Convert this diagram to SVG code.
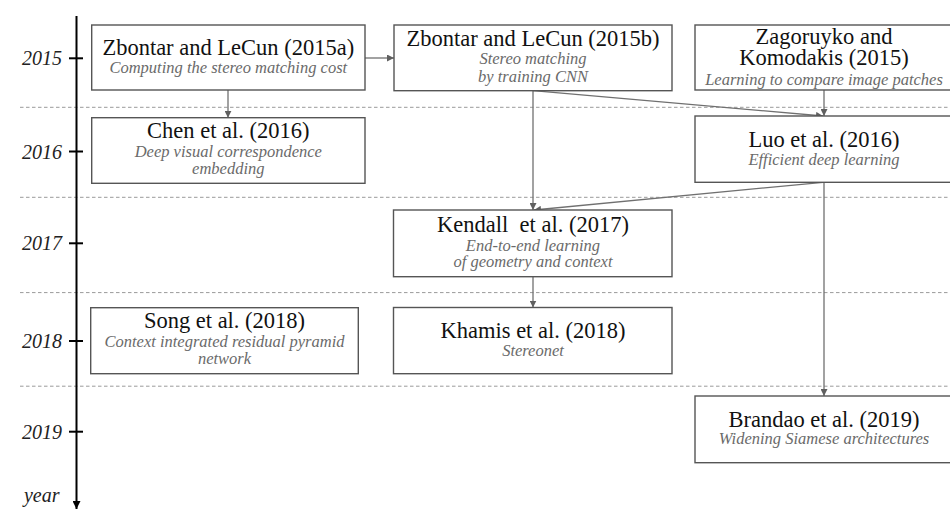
<svg xmlns="http://www.w3.org/2000/svg" width="950" height="509" viewBox="0 0 950 509">
  <style>
    .box { fill: #ffffff; stroke: #555555; stroke-width: 1.4; }
    .title { font-family: "Liberation Serif", "Times New Roman", serif; font-size: 22.5px; fill: #111111; text-anchor: middle; }
    .sub { font-family: "Liberation Serif", "Times New Roman", serif; font-style: italic; font-size: 16.5px; fill: #6a6a6a; text-anchor: middle; }
    .year { font-family: "Liberation Serif", "Times New Roman", serif; font-style: italic; font-size: 20px; fill: #222222; text-anchor: end; }
    .grid { stroke: #9a9a9a; stroke-width: 1; stroke-dasharray: 3.5 2.5; fill: none; }
    .link { stroke: #707070; stroke-width: 1.3; fill: none; marker-end: url(#arrow); }
    .axis { stroke: #000000; stroke-width: 2; fill: none; }
  </style>
  <defs>
    <marker id="arrow" viewBox="0 0 10 10" refX="10" refY="5" markerWidth="7" markerHeight="7" markerUnits="userSpaceOnUse" orient="auto">
      <path d="M0,0 L10,5 L0,10 z" fill="#606060"/>
    </marker>
    <marker id="axisArrow" viewBox="0 0 10 10" refX="10" refY="5" markerWidth="8" markerHeight="8" markerUnits="userSpaceOnUse" orient="auto">
      <path d="M0,0 L10,5 L0,10 z" fill="#000000"/>
    </marker>
  </defs>

  <rect width="950" height="509" fill="#ffffff"/>

  <!-- year separators -->
  <g id="grid">
    <line class="grid" x1="20" y1="107.3" x2="950" y2="107.3"/>
    <line class="grid" x1="20" y1="197.3" x2="950" y2="197.3"/>
    <line class="grid" x1="20" y1="292.6" x2="950" y2="292.6"/>
    <line class="grid" x1="20" y1="386.2" x2="950" y2="386.2"/>
  </g>

  <!-- time axis -->
  <g id="axis">
    <line class="axis" x1="76.5" y1="16" x2="76.5" y2="509" marker-end="url(#axisArrow)"/>
    <line class="axis" x1="69" y1="58.3" x2="83" y2="58.3" stroke-width="1.6"/>
    <line class="axis" x1="69" y1="151.5" x2="83" y2="151.5" stroke-width="1.6"/>
    <line class="axis" x1="69" y1="243.3" x2="83" y2="243.3" stroke-width="1.6"/>
    <line class="axis" x1="69" y1="341" x2="83" y2="341" stroke-width="1.6"/>
    <line class="axis" x1="69" y1="431.7" x2="83" y2="431.7" stroke-width="1.6"/>
    <text class="year" x="62" y="65.3">2015</text>
    <text class="year" x="62" y="158.5">2016</text>
    <text class="year" x="62" y="250.3">2017</text>
    <text class="year" x="62" y="348">2018</text>
    <text class="year" x="62" y="438.7">2019</text>
    <text class="year" x="59.5" y="502">year</text>
  </g>

  <!-- connectors -->
  <g id="connectors">
    <line class="link" x1="365" y1="58" x2="394" y2="58"/>
    <line class="link" x1="228" y1="90" x2="228" y2="117.7"/>
    <line class="link" x1="533" y1="90.7" x2="533" y2="210"/>
    <line class="link" x1="533" y1="90.7" x2="823" y2="116"/>
    <line class="link" x1="824" y1="90" x2="824" y2="116"/>
    <line class="link" x1="823" y1="182.3" x2="534" y2="210"/>
    <line class="link" x1="533" y1="276.7" x2="533" y2="307.5"/>
    <line class="link" x1="824" y1="182.3" x2="824" y2="396"/>
  </g>

  <g id="zbontar2015a">
    <rect class="box" x="91.7" y="25" width="273.3" height="65"/>
    <text class="title" x="228.3" y="55">Zbontar and LeCun (2015a)</text>
    <text class="sub" x="228.3" y="72.7">Computing the stereo matching cost</text>
  </g>

  <g id="zbontar2015b">
    <rect class="box" x="394" y="25" width="278" height="65.7"/>
    <text class="title" x="533" y="45.7">Zbontar and LeCun (2015b)</text>
    <text class="sub" x="533" y="64.3">Stereo matching</text>
    <text class="sub" x="533" y="81.7">by training CNN</text>
  </g>

  <g id="zagoruyko2015">
    <rect class="box" x="695" y="25" width="258" height="65"/>
    <text class="title" x="824" y="44.3">Zagoruyko and</text>
    <text class="title" x="824" y="65">Komodakis (2015)</text>
    <text class="sub" x="824" y="85">Learning to compare image patches</text>
  </g>

  <g id="chen2016">
    <rect class="box" x="91.7" y="117.7" width="273.3" height="65.6"/>
    <text class="title" x="228.3" y="138.3">Chen et al. (2016)</text>
    <text class="sub" x="228.3" y="157">Deep visual correspondence</text>
    <text class="sub" x="228.3" y="174">embedding</text>
  </g>

  <g id="luo2016">
    <rect class="box" x="695" y="116" width="258" height="66.3"/>
    <text class="title" x="824" y="146.7">Luo et al. (2016)</text>
    <text class="sub" x="824" y="165">Efficient deep learning</text>
  </g>

  <g id="kendall2017">
    <rect class="box" x="393.5" y="210" width="278.5" height="66.7"/>
    <text class="title" x="533" y="231.7" xml:space="preserve">Kendall  et al. (2017)</text>
    <text class="sub" x="533" y="251">End-to-end learning</text>
    <text class="sub" x="533" y="267.3">of geometry and context</text>
  </g>

  <g id="song2018">
    <rect class="box" x="90.7" y="307.7" width="267.6" height="66"/>
    <text class="title" x="224.5" y="328.3">Song et al. (2018)</text>
    <text class="sub" x="224.5" y="346.7">Context integrated residual pyramid</text>
    <text class="sub" x="224.5" y="364">network</text>
  </g>

  <g id="khamis2018">
    <rect class="box" x="393.5" y="307.5" width="278.5" height="66.2"/>
    <text class="title" x="533" y="337.7">Khamis et al. (2018)</text>
    <text class="sub" x="533" y="355.7">Stereonet</text>
  </g>

  <g id="brandao2019">
    <rect class="box" x="695" y="396" width="258" height="66.7"/>
    <text class="title" x="824" y="426.7">Brandao et al. (2019)</text>
    <text class="sub" x="824" y="444">Widening Siamese architectures</text>
  </g>
</svg>
